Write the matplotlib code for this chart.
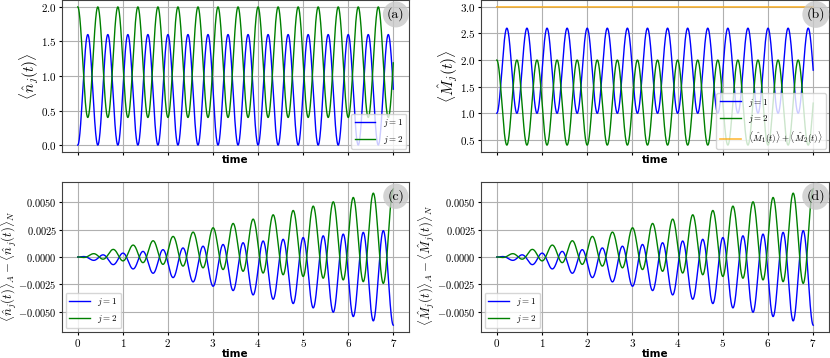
import numpy as np
import matplotlib.pyplot as plt

# values
t_end = 7.0
period = 0.4445            # oscillation period of the populations
n1_max = 1.6               # peak of <n_1>
n_total = 2.0              # <n_1> + <n_2>
M_offset = [1.0, 0.0]      # M_1 = 1 + n_1, M_2 = n_2
M_total = 3.0
# growth of the A-N difference: green peaks ~0.0062 at t=7, troughs ~-0.0024 at t=6.78
diff_mean_rate = 0.000266
diff_osc_rate = 0.00062

labels_j = [r'$j = 1$', r'$j = 2$']
colors = ['blue', 'green']
panel_tags = ['(a)', '(b)', '(c)', '(d)']
ylabels = [r'$\langle\hat{n}_j(t)\rangle$',
           r'$\langle\hat{M}_j(t)\rangle$',
           r'$\langle\hat{n}_j(t)\rangle_A - \langle\hat{n}_j(t)\rangle_N$',
           r'$\langle\hat{M}_j(t)\rangle_A - \langle\hat{M}_j(t)\rangle_N$']
sum_label = r'$\langle\hat{M}_1(t)\rangle + \langle\hat{M}_2(t)\rangle$'

t = np.linspace(0, t_end, 3000)
w = 2 * np.pi / period
n1 = n1_max / 2 * (1 - np.cos(w * t))
n2 = n_total - n1
M1 = M_offset[0] + n1
M2 = M_offset[1] + n2
d2 = t * (diff_mean_rate - diff_osc_rate * np.sin(w * t))
d1 = -d2

plt.rcParams['font.family'] = 'serif'
plt.rcParams['font.serif'] = ['cmr10']
plt.rcParams['mathtext.fontset'] = 'cm'
plt.rcParams['axes.formatter.use_mathtext'] = True
plt.rcParams['axes.unicode_minus'] = True

fig = plt.figure(figsize=(8.3, 3.58), dpi=100)
pos = [[0.0747, 0.5754, 0.4181, 0.4246],
       [0.5795, 0.5754, 0.4193, 0.4246],
       [0.0747, 0.0726, 0.4181, 0.4190],
       [0.5795, 0.0726, 0.4193, 0.4190]]
axes = [fig.add_axes(p) for p in pos]

label_x = [-0.06, -0.06, -0.124, -0.127]
label_y = [0.5, 0.5, 0.44, 0.44]
time_y = [-0.02, -0.02, -0.115, -0.115]

series = [(n1, n2), (M1, M2), (d1, d2), (d1, d2)]
for i, ax in enumerate(axes):
    for y, c, lab in zip(series[i], colors, labels_j):
        ax.plot(t, y, color=c, lw=1.0, label=lab)
    if i == 1:
        ax.plot(t, M1 + M2, color='orange', lw=1.2, alpha=0.75, label=sum_label)
    ax.grid(True, color='#b0b0b0', lw=0.8)
    ax.tick_params(labelsize=8, length=2.5, pad=1.2)
    ax.set_ylabel(ylabels[i], fontsize=11 if i < 2 else 9.2)
    ax.yaxis.set_label_coords(label_x[i], label_y[i])
    ax.set_xlabel('time', fontfamily='DejaVu Sans', fontweight='bold', fontsize=7.5)
    ax.xaxis.set_label_coords(0.5, time_y[i])
    ax.text(0.962, 0.905, panel_tags[i], transform=ax.transAxes, fontsize=10,
            ha='center', va='center',
            bbox=dict(boxstyle='circle,pad=0.3', fc='#c8c8c8', ec='none', alpha=0.8))
    for s in ax.spines.values():
        s.set_color('#404040')
    ax.set_xticks(range(8))
    if i < 2:
        ax.tick_params(labelbottom=False)
        ax.legend(loc='lower right', fontsize=6.5, borderaxespad=0.3,
                  handlelength=2.3)
    else:
        ax.tick_params(axis='y', labelsize=7.5)
        ax.legend(loc='lower left', fontsize=6.5, borderaxespad=0.4,
                  handlelength=2.3)
        ax.set_yticks([-0.005, -0.0025, 0, 0.0025, 0.005])
        ax.set_yticklabels(['$-0.0050$', '$-0.0025$', '$0.0000$', '$0.0025$', '$0.0050$'])

axes[0].set_yticks([0, 0.5, 1.0, 1.5, 2.0])
axes[1].set_yticks([0.5, 1.0, 1.5, 2.0, 2.5, 3.0])

fig.savefig('out.png', dpi=100)
